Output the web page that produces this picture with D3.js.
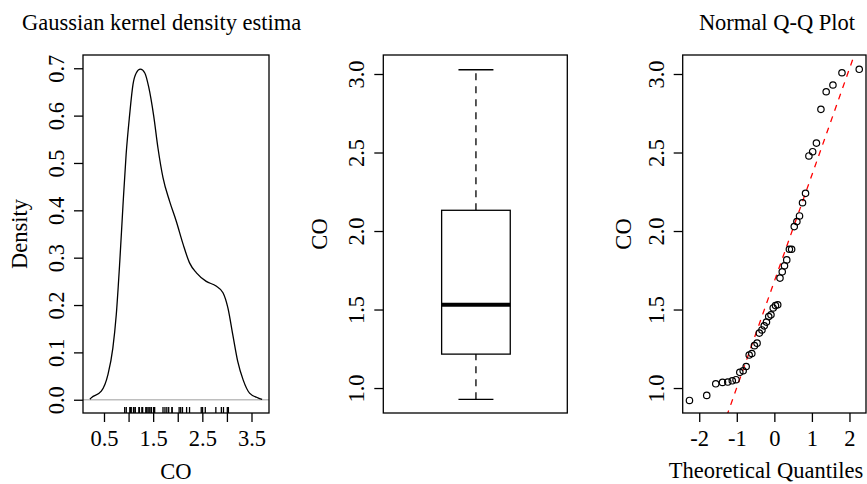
<!DOCTYPE html>
<meta charset="UTF-8">
<style>
body { margin: 0; background: #fff; }
text { font-family: "Liberation Serif", "Times New Roman", serif; font-size: 22.5px; fill: #000; }
.frame { fill: none; stroke: #000; stroke-width: 1.3px; }
.tick line { stroke: #000; stroke-width: 1.3px; }
</style>
<body>
<script src="https://cdn.jsdelivr.net/npm/d3@7"></script>
<script>

// CO sample, sorted
var coValues = [0.921, 0.953, 1.027, 1.036, 1.038, 1.046, 1.053, 1.10, 1.11, 1.137,
                1.21, 1.22, 1.27, 1.286, 1.35, 1.37, 1.396, 1.42, 1.455, 1.466,
                1.51, 1.525, 1.53, 1.70, 1.74, 1.778, 1.816, 1.884, 1.884, 2.028,
                2.06, 2.096, 2.18, 2.24, 2.478, 2.505, 2.56, 2.775, 2.887, 2.93,
                3.008, 3.03];
// theoretical normal quantiles for each sorted value
var theoQ = [-2.26, -1.80, -1.56, -1.38, -1.24, -1.12, -1.02, -0.92, -0.83, -0.75,
             -0.67, -0.60, -0.53, -0.46, -0.40, -0.33, -0.27, -0.21, -0.15, -0.09,
             -0.03, 0.03, 0.09, 0.15, 0.21, 0.27, 0.33, 0.40, 0.46, 0.53,
             0.60, 0.67, 0.75, 0.83, 0.92, 1.02, 1.12, 1.24, 1.38, 1.56,
             1.80, 2.26];
// qq line: intercept, slope
var qqLine = [1.68, 0.677];

// density curve
var densX = [0.213, 0.24, 0.445, 0.58, 0.68, 0.75, 0.82, 0.886, 0.95, 1.02, 1.09, 1.156, 1.24,
             1.33, 1.41, 1.51, 1.60, 1.70, 1.835, 1.97, 2.11, 2.24, 2.38, 2.58, 2.78,
             2.92, 3.02, 3.12, 3.22, 3.33, 3.46, 3.63, 3.716];
var densY = [0.001, 0.004, 0.018, 0.053, 0.109, 0.18, 0.29, 0.41, 0.518, 0.60, 0.666, 0.69, 0.698,
             0.69, 0.66, 0.60, 0.53, 0.469, 0.419, 0.377, 0.328, 0.289, 0.268, 0.25, 0.24,
             0.226, 0.194, 0.137, 0.081, 0.042, 0.014, 0.004, 0.001];

// boxplot: lower whisker, Q1, median, Q3, upper whisker
var boxStats = [0.928, 1.216, 1.53, 2.132, 3.027];

var densXTicks = [0.5, 1.0, 1.5, 2.0, 2.5, 3.0, 3.5];
var densXLabels = [0.5, 1.5, 2.5, 3.5];
var densYTicks = [0, 0.1, 0.2, 0.3, 0.4, 0.5, 0.6, 0.7];
var coTicks = [1.0, 1.5, 2.0, 2.5, 3.0];
var theoTicks = [-2, -1, 0, 1, 2];

var W = 867, H = 484;
var plotTop = 55, plotBottom = 413;
var tickLen = 9, labGap = 19;

var svg = d3.select("body").append("svg")
    .attr("width", W).attr("height", H);
svg.append("rect").attr("width", W).attr("height", H).attr("fill", "#fff");

function yLabels(g) {
  g.select(".domain").remove();
  g.selectAll(".tick text")
    .attr("x", 0).attr("dy", 0)
    .attr("text-anchor", "middle")
    .attr("transform", "translate(" + (-labGap) + ",0) rotate(-90)");
}
function xLabels(g) {
  g.select(".domain").remove();
  g.selectAll(".tick text").attr("y", 33).attr("dy", 0);
}

// ---------------- panel 1: density ----------------
var x1 = d3.scaleLinear().domain([0.073, 3.856]).range([83, 269]);
var y1 = d3.scaleLinear().domain([-0.028, 0.728]).range([plotBottom, plotTop]);

svg.append("text").attr("x", 22).attr("y", 30).text("Gaussian kernel density estima");

svg.append("line")
    .attr("x1", x1.range()[0]).attr("x2", x1.range()[1])
    .attr("y1", y1(0)).attr("y2", y1(0))
    .attr("stroke", "#bebebe").attr("stroke-width", 1.3);

var densPts = densX.map(function(d, i) { return [d, densY[i]]; });
svg.append("path")
    .datum(densPts)
    .attr("fill", "none").attr("stroke", "#000").attr("stroke-width", 1.3)
    .attr("d", d3.line().curve(d3.curveMonotoneX)
      .x(function(d) { return x1(d[0]); })
      .y(function(d) { return y1(d[1]); }));

// rug
svg.append("g").selectAll("line")
    .data(coValues).enter().append("line")
    .attr("x1", function(d) { return x1(d); }).attr("x2", function(d) { return x1(d); })
    .attr("y1", plotBottom - 6).attr("y2", plotBottom)
    .attr("stroke", "#000").attr("stroke-width", 1.3);

svg.append("g").attr("transform", "translate(0," + plotBottom + ")")
    .call(d3.axisBottom(x1).tickValues(densXTicks).tickSize(tickLen)
      .tickFormat(function(d) { return densXLabels.indexOf(d) >= 0 ? d3.format(".1f")(d) : ""; }))
    .call(xLabels);
svg.append("g").attr("transform", "translate(83,0)")
    .call(d3.axisLeft(y1).tickValues(densYTicks).tickSize(tickLen).tickFormat(d3.format(".1f")))
    .call(yLabels);

svg.append("rect").attr("class", "frame")
    .attr("x", 83).attr("y", plotTop).attr("width", 269 - 83).attr("height", plotBottom - plotTop);

svg.append("text").attr("x", 176).attr("y", 479).attr("text-anchor", "middle").text("CO");
svg.append("text").attr("transform", "translate(27,234) rotate(-90)")
    .attr("text-anchor", "middle").text("Density");

// ---------------- panel 2: boxplot ----------------
var x2 = d3.scaleLinear().domain([0.5, 1.5]).range([383.3, 567.3]);
var yCO = d3.scaleLinear().domain([0.841, 3.121]).range([plotBottom, plotTop]);
var bw = 0.373, cw = 0.19;
var bc = 1.0035;

var bx = svg.append("g");
// whiskers
[[boxStats[0], boxStats[1]], [boxStats[3], boxStats[4]]].forEach(function(w) {
  bx.append("line")
    .attr("x1", x2(bc)).attr("x2", x2(bc))
    .attr("y1", yCO(w[0])).attr("y2", yCO(w[1]))
    .attr("stroke", "#000").attr("stroke-width", 1.3).attr("stroke-dasharray", "7,6");
});
[boxStats[0], boxStats[4]].forEach(function(v) {
  bx.append("line")
    .attr("x1", x2(bc - cw / 2)).attr("x2", x2(bc + cw / 2))
    .attr("y1", yCO(v)).attr("y2", yCO(v))
    .attr("stroke", "#000").attr("stroke-width", 1.3);
});
bx.append("rect")
    .attr("x", x2(bc - bw / 2)).attr("width", x2(bc + bw / 2) - x2(bc - bw / 2))
    .attr("y", yCO(boxStats[3])).attr("height", yCO(boxStats[1]) - yCO(boxStats[3]))
    .attr("fill", "#fff").attr("stroke", "#000").attr("stroke-width", 1.3);
bx.append("line")
    .attr("x1", x2(bc - bw / 2)).attr("x2", x2(bc + bw / 2))
    .attr("y1", yCO(boxStats[2])).attr("y2", yCO(boxStats[2]))
    .attr("stroke", "#000").attr("stroke-width", 4);

svg.append("g").attr("transform", "translate(383.3,0)")
    .call(d3.axisLeft(yCO).tickValues(coTicks).tickSize(tickLen).tickFormat(d3.format(".1f")))
    .call(yLabels);
svg.append("rect").attr("class", "frame")
    .attr("x", 383.3).attr("y", plotTop).attr("width", 567.3 - 383.3).attr("height", plotBottom - plotTop);
svg.append("text").attr("transform", "translate(327,234) rotate(-90)")
    .attr("text-anchor", "middle").text("CO");

// ---------------- panel 3: Q-Q ----------------
var x3 = d3.scaleLinear().domain([-2.44, 2.44]).range([682.7, 866]);

svg.append("clipPath").attr("id", "qqclip").append("rect")
    .attr("x", 682.7).attr("y", plotTop).attr("width", 866 - 682.7).attr("height", plotBottom - plotTop);

var lx = x3.domain();
svg.append("line")
    .attr("clip-path", "url(#qqclip)")
    .attr("x1", x3(lx[0])).attr("y1", yCO(qqLine[0] + qqLine[1] * lx[0]))
    .attr("x2", x3(lx[1])).attr("y2", yCO(qqLine[0] + qqLine[1] * lx[1]))
    .attr("stroke", "#ff0000").attr("stroke-width", 1.3).attr("stroke-dasharray", "6,6");

svg.append("g").selectAll("circle")
    .data(coValues).enter().append("circle")
    .attr("cx", function(d, i) { return x3(theoQ[i]); })
    .attr("cy", function(d) { return yCO(d); })
    .attr("r", 3.2)
    .attr("fill", "none").attr("stroke", "#000").attr("stroke-width", 1.2);

svg.append("g").attr("transform", "translate(0," + plotBottom + ")")
    .call(d3.axisBottom(x3).tickValues(theoTicks).tickSize(tickLen)
      .tickFormat(function(d) { return d < 0 ? "-" + Math.abs(d) : d; }))
    .call(xLabels);
svg.append("g").attr("transform", "translate(682.7,0)")
    .call(d3.axisLeft(yCO).tickValues(coTicks).tickSize(tickLen).tickFormat(d3.format(".1f")))
    .call(yLabels);
svg.append("rect").attr("class", "frame")
    .attr("x", 682.7).attr("y", plotTop).attr("width", 866 - 682.7).attr("height", plotBottom - plotTop);

svg.append("text").attr("x", 777).attr("y", 30).attr("text-anchor", "middle").text("Normal Q-Q Plot");
svg.append("text").attr("x", 766).attr("y", 478).attr("text-anchor", "middle").text("Theoretical Quantiles");
svg.append("text").attr("transform", "translate(631,234) rotate(-90)")
    .attr("text-anchor", "middle").text("CO");

</script>
</body>
